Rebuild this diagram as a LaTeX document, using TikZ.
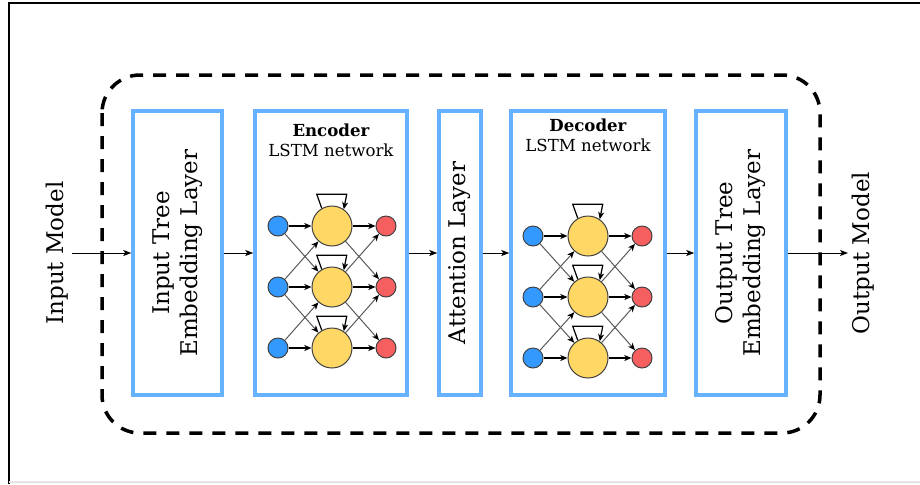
\documentclass[tikz,border=0pt]{standalone}
\usepackage{fontspec}
\setmainfont{DejaVu Serif}
\usetikzlibrary{arrows.meta}
\definecolor{boxblue}{RGB}{102,178,255}
\definecolor{inblue}{RGB}{51,153,255}
\definecolor{cellyellow}{RGB}{255,215,100}
\definecolor{outred}{RGB}{245,95,95}

\begin{document}
\begin{tikzpicture} [>={Stealth[length=3.6pt,width=3pt,inset=1pt]}, x=0.5pt, y=-0.5pt,
  layer box/.style={draw=boxblue,line width=1.75pt,inner sep=0pt,align=center,font=\fontsize{11.5}{14}\selectfont},
  model node/.style={rotate=90,inner sep=0pt,font=\fontsize{11.5}{14}\selectfont},
  title node/.style={align=center,inner sep=0pt,font=\fontsize{8.3}{10}\selectfont},
  in node/.style={circle,draw=black!75,fill=inblue,minimum size=10pt,inner sep=0pt,line width=0.5pt},
  cell node/.style={circle,draw=black!75,fill=cellyellow,minimum size=20pt,inner sep=0pt,line width=0.5pt},
  out node/.style={circle,draw=black!75,fill=outred,minimum size=10pt,inner sep=0pt,line width=0.5pt},
  flow edge/.style={-{Stealth[length=4pt,width=3pt,inset=1pt]},line width=0.5pt},
  main edge/.style={->,line width=0.7pt},
  cross edge/.style={->,line width=0.5pt,draw=black!65,-{Stealth[length=3.6pt,width=3pt,inset=1pt,fill=black,color=black]}},
  loop edge/.style={->,line width=0.6pt}]
\useasboundingbox (0,0) rectangle (920,484);
\draw[line width=0.6pt] (920,3) -- (9,3) -- (9,484); % frame of the screenshot
\draw[black!10,line width=0.6pt] (9,482) -- (920,482);

\draw[line width=1.75pt,dash pattern=on 6.5pt off 5pt,rounded corners=19pt] (102,75) rectangle (820,433); % model box

\node[model node] (im) at (57,253) {Input Model};
\node[model node] (om) at (863,253) {Output Model};
\coordinate (in) at (72,253);
\coordinate (out) at (848,253);

\node[layer box,rotate=90,minimum width=142pt,minimum height=44.5pt] (b1) at (177.5,253) {Input Tree\\Embedding Layer};
\node[layer box,minimum width=76pt,minimum height=142pt] (b2) at (331,253) {};
\node[layer box,rotate=90,minimum width=142pt,minimum height=21pt] (b3) at (460,253) {Attention Layer};
\node[layer box,minimum width=77pt,minimum height=142pt] (b4) at (588,253) {};
\node[layer box,rotate=90,minimum width=142pt,minimum height=45pt] (b5) at (741,253) {Output Tree\\Embedding Layer};

\path[every edge/.style={draw,flow edge}]
(in) edge (b1)
(b1) edge (b2)
(b2) edge (b3)
(b3) edge (b4)
(b4) edge (b5)
(b5) edge (out);

% encoder
\node[title node] (et) at (331,140) {\textbf{Encoder}\\LSTM network};
\node[in node] (e1) at (278,226) {};
\node[in node] (e2) at (278,287) {};
\node[in node] (e3) at (278,348) {};
\node[cell node] (e4) at (332,226) {};
\node[cell node] (e5) at (332,287) {};
\node[cell node] (e6) at (332,348) {};
\node[out node] (e7) at (386,226) {};
\node[out node] (e8) at (386,287) {};
\node[out node] (e9) at (386,348) {};

\path
(e1) edge [cross edge] (e5)
(e2) edge [cross edge] (e4)
(e2) edge [cross edge] (e6)
(e3) edge [cross edge] (e5)
(e4) edge [cross edge] (e8)
(e5) edge [cross edge] (e7)
(e5) edge [cross edge] (e9)
(e6) edge [cross edge] (e8)
(e1) edge [main edge] (e4)
(e2) edge [main edge] (e5)
(e3) edge [main edge] (e6)
(e4) edge [main edge] (e7)
(e5) edge [main edge] (e8)
(e6) edge [main edge] (e9);
\draw[loop edge] (e4.120) -- ++(-5,-14) -- ++(30,0) -- (e4.55);
\draw[loop edge] (e5.120) -- ++(-5,-14) -- ++(30,0) -- (e5.55);
\draw[loop edge] (e6.120) -- ++(-5,-14) -- ++(30,0) -- (e6.55);

% decoder
\node[title node] (dt) at (588,135) {\textbf{Decoder}\\LSTM network};
\node[in node] (d1) at (533,236) {};
\node[in node] (d2) at (533,297) {};
\node[in node] (d3) at (533,358) {};
\node[cell node] (d4) at (588,236) {};
\node[cell node] (d5) at (588,297) {};
\node[cell node] (d6) at (588,358) {};
\node[out node] (d7) at (642,236) {};
\node[out node] (d8) at (642,297) {};
\node[out node] (d9) at (642,358) {};

\path
(d1) edge [cross edge] (d5)
(d2) edge [cross edge] (d4)
(d2) edge [cross edge] (d6)
(d3) edge [cross edge] (d5)
(d4) edge [cross edge] (d8)
(d5) edge [cross edge] (d7)
(d5) edge [cross edge] (d9)
(d6) edge [cross edge] (d8)
(d1) edge [main edge] (d4)
(d2) edge [main edge] (d5)
(d3) edge [main edge] (d6)
(d4) edge [main edge] (d7)
(d5) edge [main edge] (d8)
(d6) edge [main edge] (d9);
\draw[loop edge] (d4.120) -- ++(-5,-14) -- ++(30,0) -- (d4.55);
\draw[loop edge] (d5.120) -- ++(-5,-14) -- ++(30,0) -- (d5.55);
\draw[loop edge] (d6.120) -- ++(-5,-14) -- ++(30,0) -- (d6.55);
\end{tikzpicture}
\end{document}
